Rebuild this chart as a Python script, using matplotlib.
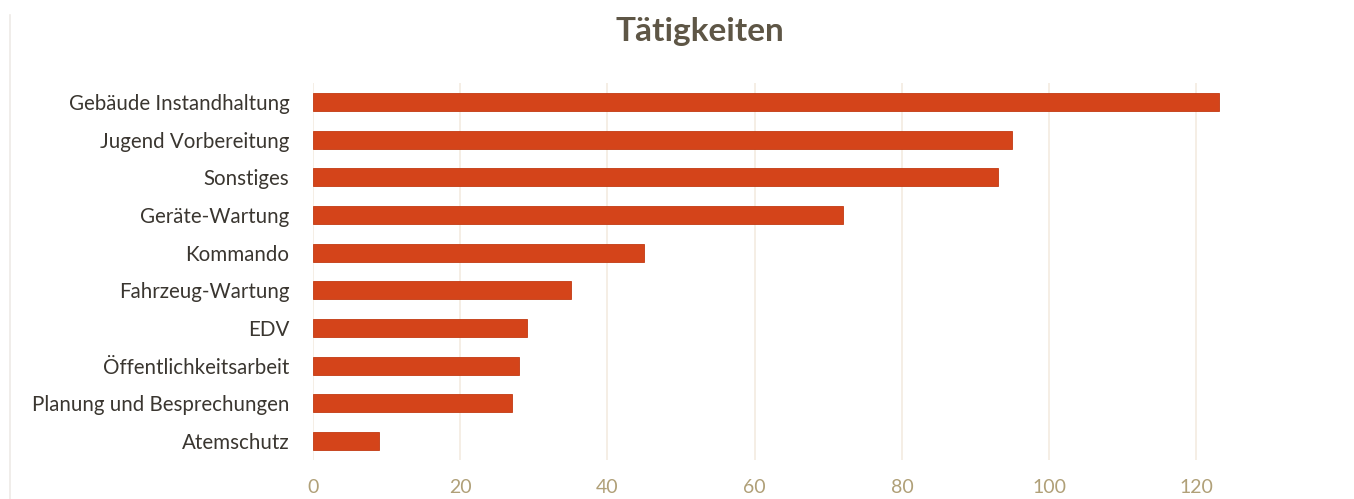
import matplotlib.pyplot as plt

# data, top to bottom
categories = ['Gebäude Instandhaltung', 'Jugend Vorbereitung', 'Sonstiges',
              'Geräte-Wartung', 'Kommando', 'Fahrzeug-Wartung', 'EDV',
              'Öffentlichkeitsarbeit', 'Planung und Besprechungen', 'Atemschutz']
values = [123, 95, 93, 72, 45, 35, 29, 28, 27, 9]
xticks = [0, 20, 40, 60, 80, 100, 120]

plt.rcParams['font.family'] = ['Lato', 'DejaVu Sans']

fig = plt.figure(figsize=(13.54, 4.99), dpi=100)
ax = fig.add_axes([313 / 1354, 1 - 460 / 499, (1354 - 313) / 1354, (460 - 83) / 499])

ypos = list(range(len(categories)))[::-1]
ax.barh(ypos, values, height=0.48, color='#d4441a', edgecolor='#c23a12', linewidth=0.6, zorder=3)

ax.set_xlim(0, 141.4)
ax.set_ylim(-0.5, len(categories) - 0.5)
ax.set_xticks(xticks)
ax.set_yticks(ypos)
ax.set_yticklabels(categories, fontsize=14.8, color='#3a3630')
ax.set_xticklabels([str(t) for t in xticks], fontsize=14, color='#b0a078')
ax.tick_params(axis='both', length=0)
ax.tick_params(axis='y', pad=17)
ax.tick_params(axis='x', pad=14)
ax.grid(axis='x', color='#f3ebe0', linewidth=1.2, zorder=0)
for s in ax.spines.values():
    s.set_visible(False)

fig.text(700 / 1354, 1 - 31 / 499, 'Tätigkeiten', ha='center', va='center',
         fontsize=24, fontweight='bold', color='#5e5646')

# faint frame edge at the left
fig.add_artist(plt.Line2D([10 / 1354, 10 / 1354], [0, 1 - 15 / 499], color='#eeeae6', linewidth=1.2))

fig.savefig('out.png', dpi=100)
